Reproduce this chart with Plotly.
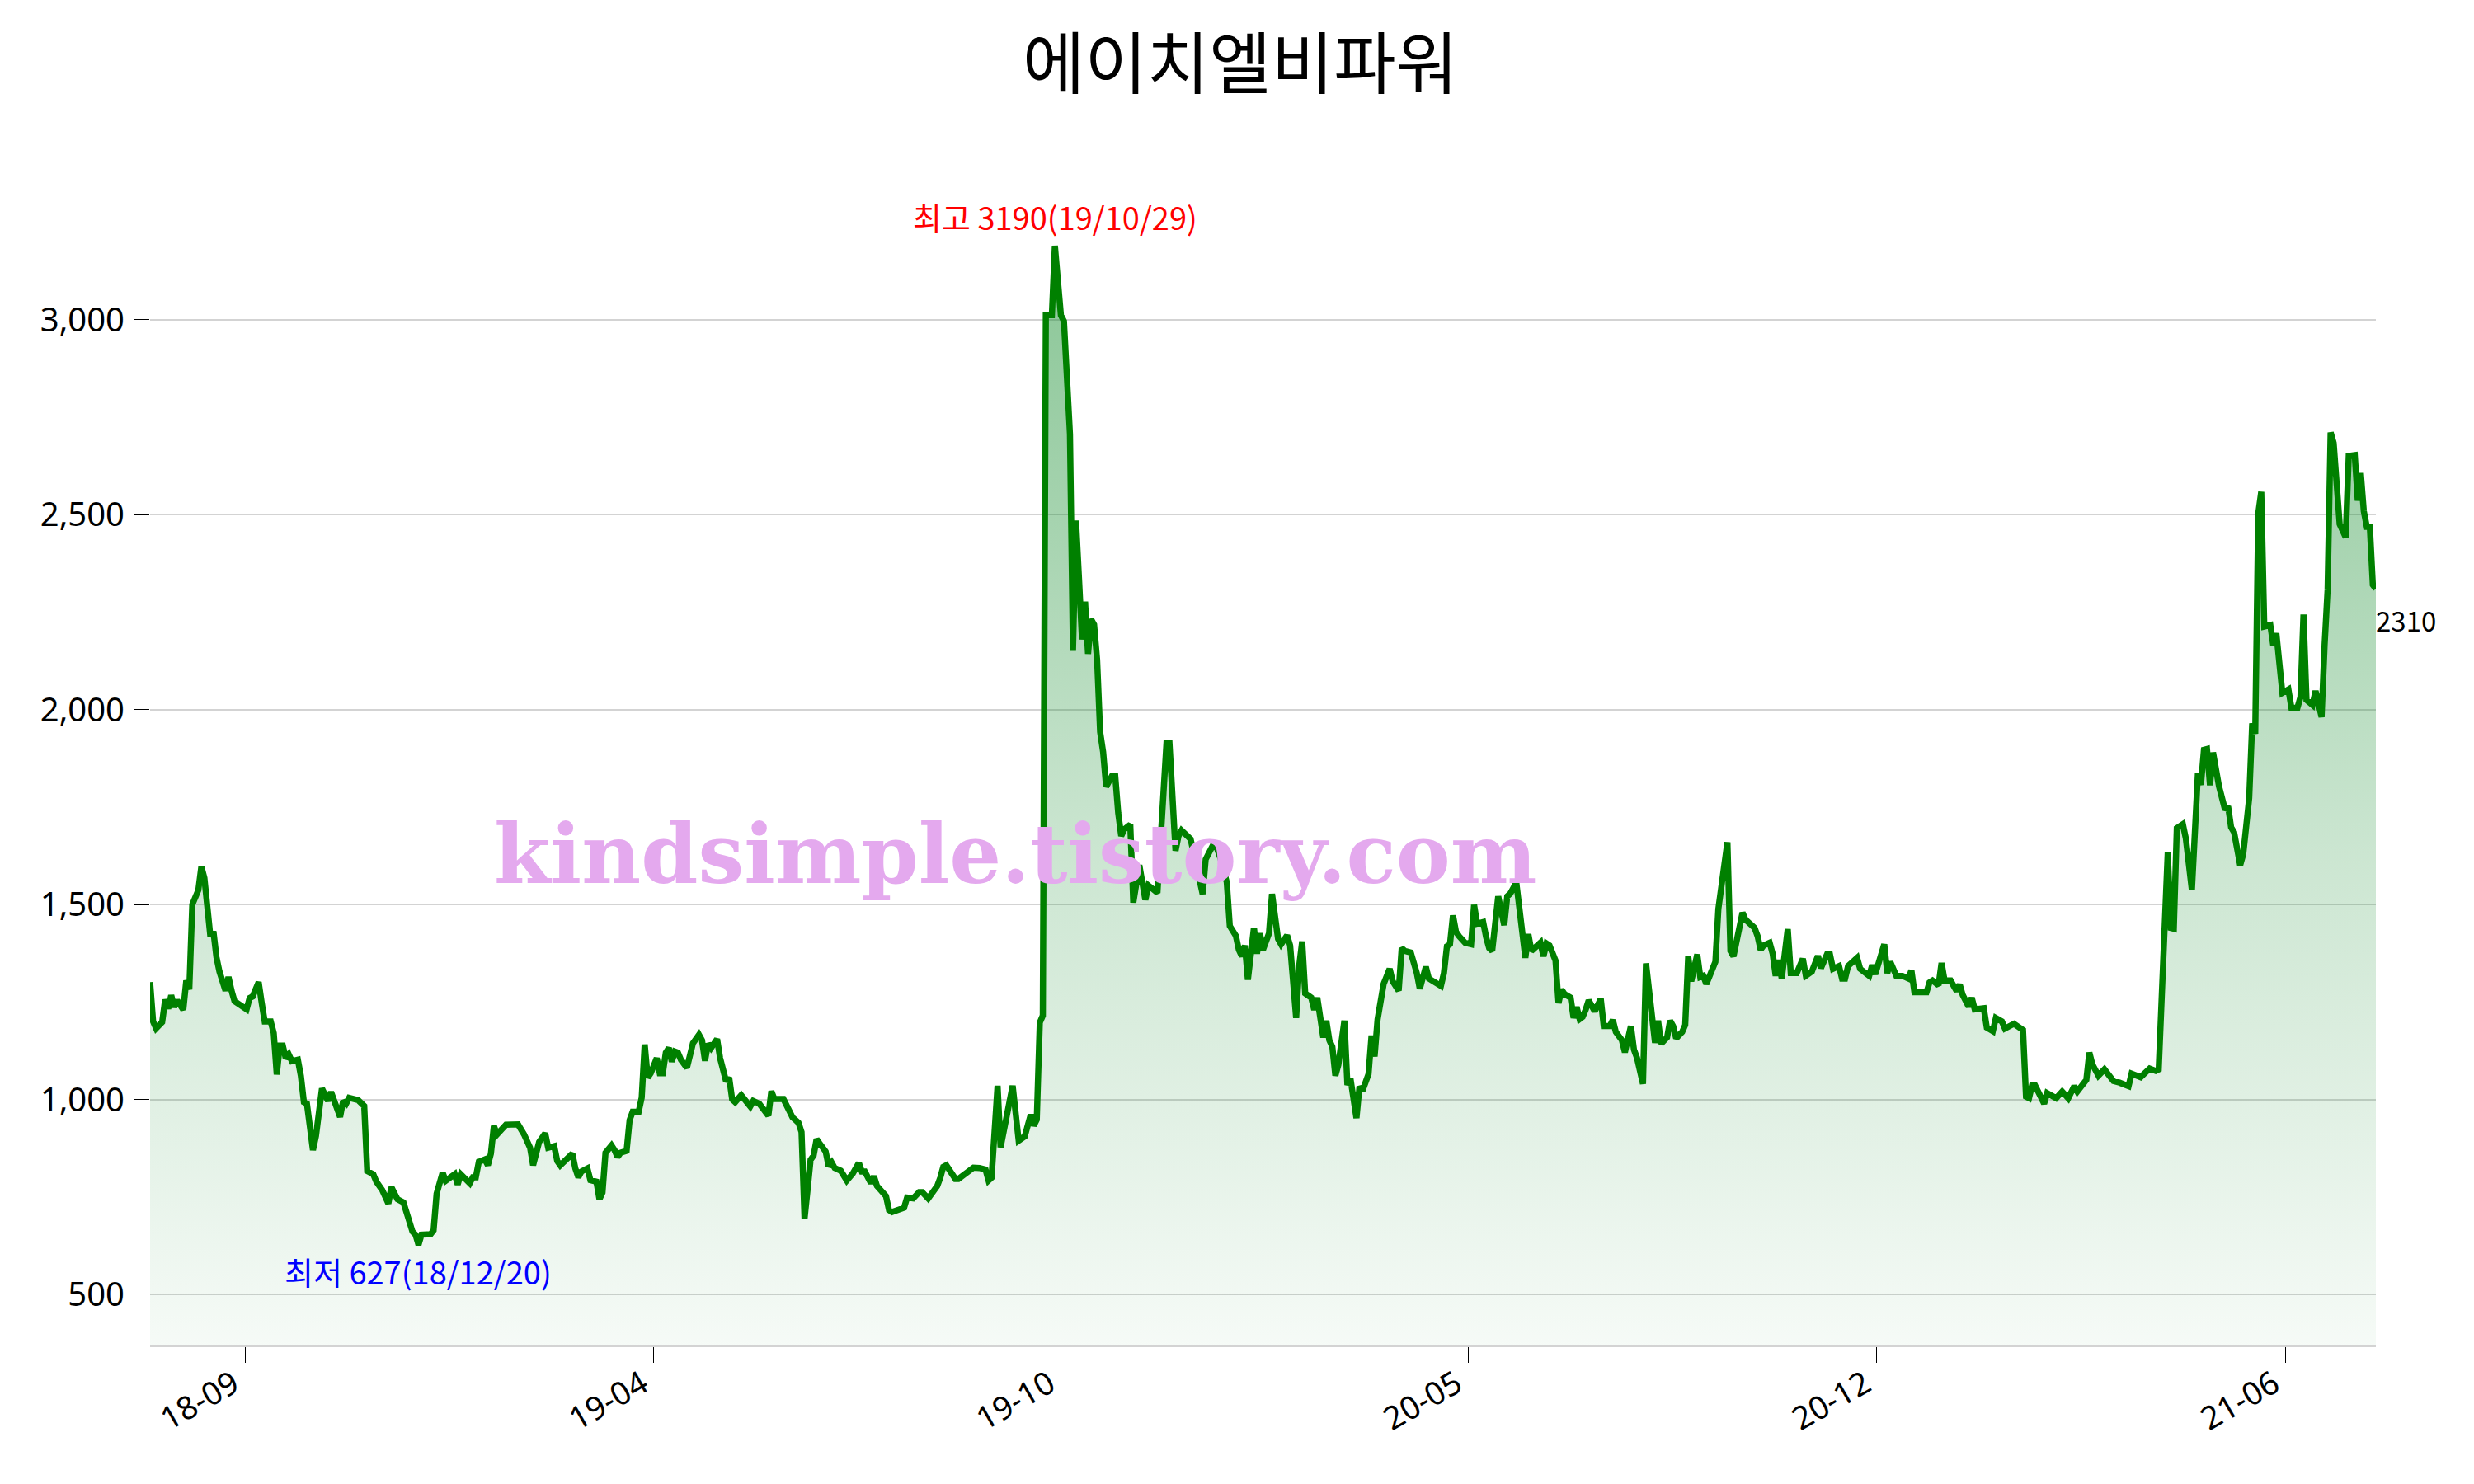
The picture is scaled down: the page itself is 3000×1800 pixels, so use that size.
import plotly.graph_objects as go

title_text = "에이치엘비파워"

trading_day = [
    0, 1, 2, 4, 5, 6, 7, 8, 9, 11,
    12, 13, 14, 16, 17, 18, 20, 21, 22, 23,
    25, 26, 27, 28, 32, 33, 34, 36, 37, 38,
    40, 41, 42, 43, 44, 45, 46, 47, 49, 50,
    51, 52, 54, 55, 57, 59, 60, 62, 63, 64,
    65, 66, 69, 71, 72, 74, 75, 77, 79, 80,
    82, 84, 85, 86, 87, 88, 89, 90, 93, 94,
    95, 97, 98, 101, 102, 103, 106, 107, 108, 109,
    111, 112, 113, 114, 115, 118, 122, 124, 125, 126,
    127, 128, 129, 131, 132, 134, 135, 136, 140, 141,
    142, 143, 145, 146, 148, 149, 150, 151, 153, 154,
    155, 156, 158, 159, 160, 162, 163, 164, 165, 166,
    168, 169, 170, 171, 172, 173, 174, 175, 176, 178,
    179, 180, 182, 183, 184, 185, 186, 188, 189, 190,
    191, 192, 193, 194, 195, 196, 199, 200, 202, 203,
    205, 206, 207, 210, 211, 212, 213, 214, 215, 216,
    217, 218, 219, 220, 221, 222, 223, 224, 225, 226,
    227, 229, 231, 233, 235, 236, 237, 238, 239, 240,
    241, 244, 245, 246, 248, 250, 251, 253, 255, 256,
    258, 259, 261, 262, 263, 264, 265, 267, 268, 271,
    273, 275, 277, 278, 279, 281, 282, 286, 287, 288,
    290, 292, 293, 294, 295, 296, 297, 299, 300, 302,
    303, 304, 305, 306, 307, 308, 309, 310, 311, 312,
    313, 314, 315, 316, 317, 319, 320, 321, 322, 323,
    325, 326, 328, 330, 331, 334, 337, 338, 340, 341,
    342, 345, 349, 350, 353, 355, 357, 358, 360, 361,
    362, 363, 364, 366, 367, 368, 369, 371, 372, 374,
    375, 377, 378, 380, 381, 382, 383, 385, 386, 387,
    389, 390, 391, 392, 393, 394, 396, 397, 398, 400,
    401, 402, 403, 404, 405, 406, 407, 409, 411, 412,
    414, 415, 416, 418, 420, 421, 423, 424, 428, 429,
    430, 431, 432, 433, 434, 436, 438, 439, 440, 442,
    443, 444, 445, 447, 449, 450, 451, 453, 456, 457,
    458, 461, 462, 463, 464, 466, 467, 468, 469, 471,
    472, 473, 474, 475, 476, 477, 479, 481, 482, 484,
    485, 486, 488, 489, 491, 492, 493, 494, 495, 496,
    498, 499, 500, 501, 503, 504, 505, 506, 508, 509,
    510, 511, 513, 514, 515, 516, 519, 520, 523, 524,
    525, 528, 529, 532, 533, 534, 535, 537, 538, 539,
    540, 541, 543, 544, 546, 548, 549, 551, 553, 554,
    556, 557, 558, 560, 561, 562, 563, 566, 567, 570,
    571, 572, 575, 576, 577, 579, 581, 583, 584, 585,
    589, 590, 591, 593, 594, 595, 597, 599, 600, 601,
    603, 604, 605, 608, 609, 611, 612, 614, 615, 618,
    621, 622, 623, 624, 625, 628, 629, 632, 634, 636,
    638, 639, 642, 643, 644, 646, 648, 651, 653, 656,
    657, 660, 663, 665, 666, 667, 669, 670, 671, 672,
    674, 675, 677, 679, 680, 681, 682, 683, 684, 686,
    688, 689, 690, 691, 693, 694, 696, 697, 698, 699,
    700, 701, 703, 704, 705, 707, 709, 710, 712, 713,
    714, 715, 717, 718, 720, 721, 722, 723, 724, 726,
    727, 728, 729, 731, 732, 733, 734, 735, 736, 737,
    738,
]

price = [
    1301, 1200, 1182, 1198, 1256, 1233, 1267, 1237, 1254, 1230,
    1305, 1282, 1500, 1537, 1597, 1568, 1418, 1431, 1365, 1328,
    1279, 1314, 1279, 1252, 1231, 1260, 1264, 1301, 1248, 1200,
    1200, 1170, 1064, 1138, 1138, 1105, 1115, 1098, 1102, 1060,
    993, 989, 870, 906, 1028, 996, 1019, 977, 955, 996,
    989, 1004, 998, 983, 816, 808, 789, 767, 733, 775,
    744, 736, 710, 691, 661, 653, 627, 653, 654, 664,
    758, 812, 791, 808, 782, 808, 785, 800, 800, 840,
    846, 831, 861, 932, 910, 935, 936, 910, 891, 876,
    831, 868, 891, 913, 876, 880, 842, 831, 861, 823,
    800, 815, 823, 793, 789, 744, 761, 863, 882, 870,
    852, 863, 868, 947, 968, 968, 1004, 1141, 1056, 1067,
    1106, 1067, 1067, 1120, 1132, 1097, 1123, 1120, 1102, 1081,
    1109, 1144, 1166, 1152, 1099, 1143, 1132, 1155, 1106, 1081,
    1046, 1056, 1000, 993, 1000, 1011, 982, 996, 989, 979,
    958, 1021, 1001, 1001, 982, 973, 954, 947, 940, 916,
    694, 768, 845, 856, 898, 887, 879, 866, 828, 838,
    824, 817, 792, 810, 837, 815, 815, 799, 785, 803,
    778, 752, 716, 711, 715, 722, 748, 746, 762, 762,
    746, 759, 778, 799, 827, 831, 820, 796, 796, 811,
    825, 824, 820, 792, 799, 1035, 877, 1035, 951, 894,
    905, 961, 933, 948, 1197, 1215, 3012, 3012, 3190, 3012,
    2997, 2849, 2707, 2151, 2485, 2336, 2180, 2277, 2143, 2232,
    2218, 2128, 1943, 1891, 1802, 1831, 1831, 1735, 1676, 1693,
    1705, 1505, 1601, 1512, 1549, 1530, 1913, 1913, 1638, 1676,
    1690, 1668, 1527, 1616, 1661, 1616, 1557, 1445, 1420, 1384,
    1367, 1395, 1307, 1440, 1374, 1426, 1384, 1426, 1527, 1412,
    1398, 1421, 1395, 1209, 1342, 1405, 1272, 1261, 1230, 1261,
    1159, 1202, 1152, 1135, 1061, 1089, 1202, 1037, 1054, 952,
    1033, 1022, 1044, 1065, 1164, 1110, 1205, 1296, 1335, 1303,
    1279, 1388, 1381, 1377, 1324, 1284, 1340, 1310, 1291, 1324,
    1393, 1398, 1472, 1430, 1419, 1402, 1398, 1499, 1451, 1455,
    1416, 1388, 1381, 1521, 1447, 1521, 1528, 1556, 1363, 1424,
    1381, 1402, 1367, 1400, 1395, 1356, 1247, 1282, 1270, 1261,
    1209, 1237, 1206, 1212, 1230, 1254, 1226, 1258, 1188, 1188,
    1204, 1173, 1152, 1121, 1188, 1128, 1107, 1079, 1040, 1349,
    1223, 1145, 1202, 1143, 1159, 1202, 1188, 1157, 1173, 1191,
    1367, 1303, 1372, 1314, 1317, 1296, 1353, 1489, 1660, 1381,
    1367, 1479, 1461, 1440, 1419, 1384, 1395, 1402, 1374, 1317,
    1358, 1310, 1437, 1324, 1324, 1361, 1317, 1328, 1368, 1337,
    1372, 1372, 1335, 1342, 1310, 1310, 1342, 1363, 1335, 1317,
    1345, 1321, 1398, 1324, 1353, 1317, 1317, 1310, 1331, 1275,
    1275, 1300, 1305, 1293, 1350, 1305, 1305, 1278, 1295, 1268,
    1238, 1261, 1231, 1234, 1184, 1175, 1209, 1200, 1182, 1194,
    1178, 1007, 1003, 1036, 1036, 989, 1016, 1003, 1020, 1003,
    1034, 1020, 1050, 1120, 1090, 1061, 1077, 1047, 1043, 1034,
    1066, 1057, 1079, 1073, 1077, 1265, 1635, 1440, 1438, 1696,
    1706, 1669, 1537, 1837, 1807, 1897, 1899, 1806, 1890, 1803,
    1743, 1752, 1698, 1685, 1601, 1628, 1773, 1965, 1938, 2503,
    2559, 2213, 2217, 2164, 2196, 2043, 2052, 2005, 2005, 2032,
    2244, 2025, 2012, 2048, 1981, 2166, 2308, 2711, 2684, 2476,
    2462, 2442, 2651, 2653, 2536, 2607, 2509, 2469, 2469, 2320,
    2310,
]

tick_days = [31.5, 167, 302, 437, 572.5, 708]
tick_labels = ["18-09", "19-04", "19-10", "20-05", "20-12", "21-06"]
y_ticks = [500, 1000, 1500, 2000, 2500, 3000]

high_label = "최고 3190(19/10/29)"
low_label = "최저 627(18/12/20)"
watermark = "kindsimple.tistory.com"

assert len(trading_day) == len(price)

ymax = max(price)
ymin = min(price)
span = ymax - ymin
y_lo = ymin - 0.1 * span
y_hi = ymax + 0.1 * span
i_max = price.index(ymax)
i_min = price.index(ymin)

FONT = "Noto Sans CJK KR"
TICKFONT = "Noto Sans"
base = "20,140,45"

W, H = 2992, 1792

fig = go.Figure()
fig.add_trace(go.Scatter(
    x=trading_day, y=price, mode="lines",
    line=dict(color="#008000", width=7.5),
    fill="tozeroy",
    fillgradient=dict(
        type="vertical", start=y_lo, stop=ymax,
        colorscale=[
            [0.0, f"rgba({base},0.04)"],
            [0.22, f"rgba({base},0.13)"],
            [0.45, f"rgba({base},0.22)"],
            [0.75, f"rgba({base},0.38)"],
            [1.0, f"rgba({base},0.50)"],
        ],
    ),
    hoverinfo="x+y",
    showlegend=False,
))

fig.add_annotation(x=trading_day[i_max], y=ymax, text=high_label, showarrow=False,
                   xanchor="center", yanchor="bottom", yshift=6,
                   font=dict(family=FONT, size=38, color="red"))
fig.add_annotation(x=trading_day[i_min], y=ymin, text=low_label, showarrow=False,
                   xanchor="center", yanchor="top", yshift=-2,
                   font=dict(family=FONT, size=38, color="blue"))
fig.add_annotation(x=trading_day[-1], y=price[-1], text=str(price[-1]), showarrow=False,
                   xanchor="left", yanchor="top", yshift=-12, xshift=-2,
                   font=dict(family=FONT, size=33, color="black"))
fig.add_annotation(x=0.3885, y=0.409, xref="paper", yref="paper", text="<b>" + watermark + "</b>",
                   showarrow=False, xanchor="center", yanchor="middle",
                   font=dict(family="DejaVu Serif", size=99, color="#E4A9EE"))

fig.update_layout(
    width=W, height=H,
    paper_bgcolor="white", plot_bgcolor="white",
    margin=dict(l=174, r=119, t=169, b=169),
    font=dict(family=FONT, size=40, color="black"),
    title=dict(text=title_text, x=0.5, xanchor="center", y=1 - 70 / H, yanchor="middle",
               yref="container",
               font=dict(family=FONT, size=82, color="black")),
    xaxis=dict(range=[0, trading_day[-1]], tickvals=tick_days, ticktext=tick_labels,
               tickangle=-30, ticks="outside", ticklen=19, tickwidth=1, tickcolor="black",
               ticklabelshift=-14, ticklabelstandoff=-12,
               showgrid=False, zeroline=False, showline=True, linecolor="#d3d3d3", linewidth=3,
               tickfont=dict(family=TICKFONT, size=39, color="black")),
    yaxis=dict(range=[y_lo, y_hi], tickvals=y_ticks, tickformat=",d",
               ticks="outside", ticklen=18, tickwidth=1, tickcolor="black",
               ticklabelstandoff=4,
               showgrid=True, gridcolor="#d3d3d3", gridwidth=2, zeroline=False, showline=False,
               tickfont=dict(family=TICKFONT, size=40, color="black")),
)

fig.write_html("out.html")
